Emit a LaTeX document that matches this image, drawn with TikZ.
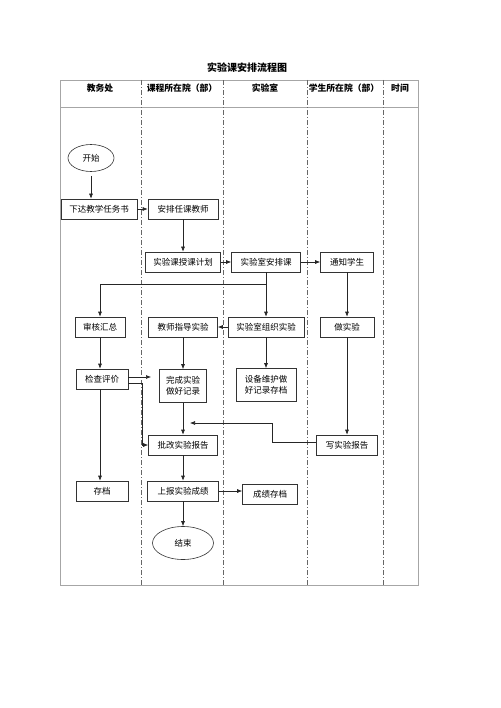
\documentclass[tikz,border=0pt]{standalone}
\usepackage{fontspec}
\usepackage{tikz}
\usetikzlibrary{shapes,arrows.meta,positioning,calc}
\newfontfamily\cjk{Noto Sans CJK SC}

\begin{document}
\begin{tikzpicture}[
    x=1pt, y=-1pt,
    font=\cjk\fontsize{8.5}{11}\selectfont,
    laneFrame/.style={draw=gray!70, line width=0.8pt},
    laneSep/.style={draw=gray!80!black, line width=0.5pt, dash pattern=on 5pt off 2pt on 1pt off 2pt},
    laneHead/.style={font=\cjk\bfseries\fontsize{8.8}{10}\selectfont},
    taskBox/.style={
        rectangle, draw=black!80, line width=0.6pt, fill=white,
        minimum height=20pt, inner sep=2pt, align=center
    },
    termNode/.style={
        ellipse, draw=black!80, line width=0.6pt, fill=white, inner sep=0pt
    },
    flowArrow/.style={
        -{Latex[length=5pt, width=4pt]}, line width=0.6pt, draw=black!85
    },
    flowLine/.style={line width=0.6pt, draw=black!85}
]
\useasboundingbox (0,0) rectangle (500,708);

% Title and lane frame
\node[font=\cjk\bfseries\fontsize{10}{12}\selectfont] (title) at (247,68) {实验课安排流程图};
\draw[laneFrame] (60,80) rectangle (418,585);
\draw[laneFrame] (60,107) -- (418,107);
\foreach \x in {141,223,307,383}
    \draw[laneSep] (\x,80) -- (\x,585);

\node[laneHead] (hdJwc) at (100,88) {教务处};
\node[laneHead] (hdCourse) at (182,88) {课程所在院（部）};
\node[laneHead] (hdLab) at (265,88) {实验室};
\node[laneHead] (hdStudent) at (344,88) {学生所在院（部）};
\node[laneHead] (hdTime) at (400,88) {时间};

% Row 1: start and task
\node[termNode, minimum width=46pt, minimum height=27pt] (start) at (91,158) {开始};
\node[taskBox, minimum width=76pt] (xiada) at (99,209) {下达教学任务书};
\node[taskBox, minimum width=70pt] (anpai) at (183,209) {安排任课教师};

% Row 2: schedule
\node[taskBox, minimum width=75pt] (jihua) at (183,262) {实验课授课计划};
\node[taskBox, minimum width=69pt] (shiyanshi) at (266,262) {实验室安排课};
\node[taskBox, minimum width=53pt] (tongzhi) at (347,262) {通知学生};

% Row 3: experiment
\node[taskBox, minimum width=50pt] (shenhe) at (100,327) {审核汇总};
\node[taskBox, minimum width=69pt] (zhidao) at (183,327) {教师指导实验};
\node[taskBox, minimum width=76pt] (zuzhi) at (266,327) {实验室组织实验};
\node[taskBox, minimum width=54pt] (zuoshiyan) at (347,327) {做实验};

% Row 4: records
\node[taskBox, minimum width=52pt] (jiancha) at (102,379) {检查评价};
\node[taskBox, minimum width=47pt, minimum height=33pt] (wancheng) at (183,386) {完成实验\\做好记录};
\node[taskBox, minimum width=60pt, minimum height=33pt] (shebei) at (266,385) {设备维护做\\好记录存档};

% Row 5: reports and grades
\node[taskBox, minimum width=69pt] (pigai) at (183,445) {批改实验报告};
\node[taskBox, minimum width=61pt] (xie) at (347,445) {写实验报告};
\node[taskBox, minimum width=52pt] (cundang) at (102,491) {存档};
\node[taskBox, minimum width=71pt] (shangbao) at (183,491) {上报实验成绩};
\node[taskBox, minimum width=55pt] (chengji) at (270,494) {成绩存档};
\node[termNode, minimum width=61pt, minimum height=33pt] (jieshu) at (183,543) {结束};

% Free ends and bends
\coordinate (splitPt) at (266,284);
\coordinate (ckTip) at (151,377);
\coordinate (bendPt) at (272,423);
\coordinate (pgTip) at (190,423);

% Flows
\draw[flowArrow, shorten <=4pt] (start.south) -- (start.south |- xiada.north);
\draw[flowArrow] (xiada.east) -- (anpai.west);
\draw[flowArrow] (anpai.south) -- (jihua.north);
\draw[flowArrow] (jihua.east) -- (shiyanshi.west);
\draw[flowArrow] (shiyanshi.east) -- (tongzhi.west);
\draw[flowArrow] (shiyanshi.south) -- (zuzhi.north);
\draw[flowArrow] (splitPt) -| (shenhe.north);
\draw[flowArrow] (tongzhi.south) -- (zuoshiyan.north);
\draw[flowArrow] (zuzhi.west) -- (zhidao.east);
\draw[flowArrow] (zuzhi.south) -- (shebei.north);
\draw[flowArrow] (zhidao.south) -- (wancheng.north);
\draw[flowArrow] (shenhe.south) -- (shenhe.south |- jiancha.north);
\draw[flowArrow] (jiancha.south -| shenhe.south) -- (shenhe.south |- cundang.north);
\draw[flowArrow] ($(jiancha.east)+(0,-2)$) -- (ckTip);
\draw[flowArrow] ($(jiancha.east)+(0,4)$) -| ($(pigai.west)+(-6,0)$) -- (pigai.west);
\draw[flowArrow] (zuoshiyan.south) -- (xie.north);
\draw[flowArrow] ($(xie.west)+(0,-3)$) -| (bendPt) -- (pgTip);
\draw[flowArrow] (wancheng.south) -- (pigai.north);
\draw[flowArrow] (pigai.south) -- (shangbao.north);
\draw[flowArrow] (shangbao.east) -- (shangbao.east -| chengji.west);
\draw[flowArrow] (shangbao.south) -- (jieshu.north);

\end{tikzpicture}
\end{document}
